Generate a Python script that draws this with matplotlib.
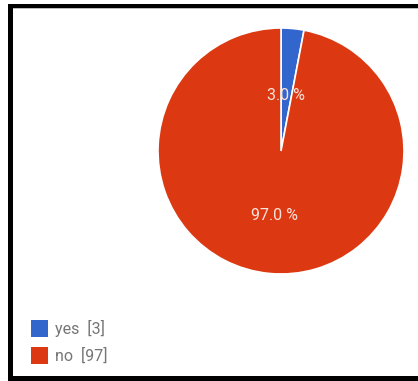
import matplotlib.pyplot as plt
from matplotlib.patches import Rectangle
import numpy as np

W, H = 418, 381

labels = ['yes', 'no']
counts = [3, 97]
colors = ['#3366cc', '#dc3912']
pct_dist = [0.45, 0.53]

plt.rcParams['font.family'] = ['Roboto', 'DejaVu Sans']


def fx(px):
    return px / W


def fy(py):
    # pixel rows run top-down, figure fractions bottom-up
    return 1 - py / H


fig = plt.figure(figsize=(W / 100, H / 100), dpi=100)
fig.patch.set_facecolor('white')

# pie axes: centre (281, 151), radius 123 px
cx, cy, r = 281, 151, 123
ax = fig.add_axes([fx(cx - r), fy(cy + r), 2 * r / W, 2 * r / H])
wedges, _ = ax.pie(counts, colors=colors, startangle=90, counterclock=False,
                   radius=1, wedgeprops=dict(edgecolor='white', linewidth=1.2))
ax.set_xlim(-1, 1)
ax.set_ylim(-1, 1)
ax.axis('off')

total = sum(counts)
start = 90.0
for val, d in zip(counts, pct_dist):
    sweep = 360.0 * val / total
    mid = np.deg2rad(start - sweep / 2)
    start -= sweep
    ax.text(d * np.cos(mid), d * np.sin(mid), f'{100 * val / total:.1f} %',
            ha='center', va='center', color='#fbe3dc', fontsize=11.5)

# legend
for i, (name, n, c) in enumerate(zip(labels, counts, colors)):
    top = 320 + i * 27
    fig.add_artist(Rectangle((fx(31), fy(top + 17)), 17 / W, 17 / H,
                             transform=fig.transFigure, facecolor=c,
                             edgecolor='none'))
    fig.text(fx(55), fy(top + 8.5), f'{name}  [{n}]', color='#757575',
             fontsize=11.5, ha='left', va='center')

# black frame (top, left, bottom)
frame = [(8, 4, W - 8, 4.5), (8, 4, 5, H - 4), (8, 376, W - 8, 5)]
for x0, y0, w, h in frame:
    fig.add_artist(Rectangle((fx(x0), fy(y0 + h)), w / W, h / H,
                             transform=fig.transFigure, facecolor='black',
                             edgecolor='none'))
fig.add_artist(Rectangle((fx(13), fy(9.2)), (W - 13) / W, 0.8 / H,
                         transform=fig.transFigure, facecolor='#bbbbbb',
                         edgecolor='none'))

fig.savefig('out.png', dpi=100)
